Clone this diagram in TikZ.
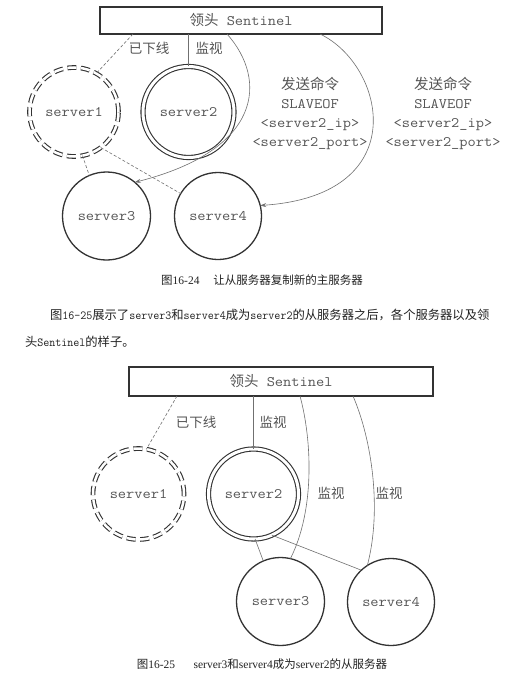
\documentclass[tikz,border=0pt]{standalone}
\usepackage{fontspec}
\setmainfont[FakeStretch=1.1]{Latin Modern Mono}
\newfontfamily\cjk{Noto Sans CJK SC}
\newfontfamily\capl{Liberation Serif}
\newfontfamily\paral[FakeStretch=0.95]{Latin Modern Mono}
\usetikzlibrary{arrows.meta}
\definecolor{ink}{HTML}{333333}
\definecolor{txt}{HTML}{555555}
\definecolor{wirec}{HTML}{707070}
\definecolor{body}{HTML}{222222}
\begin{document}
\begin{tikzpicture}[x=1pt,y=-1pt,
  every node/.style={inner sep=0pt,outer sep=0pt},
  box/.style={draw=ink,line width=1.6pt,fill=white,minimum width=282pt,minimum height=27pt,font=\fontsize{14.5}{16}\selectfont,text=txt},
  srv/.style={circle,draw=ink,line width=1.3pt,text=txt,font=\fontsize{14.5}{16}\selectfont},
  master/.style={srv,double,double distance=3pt,line width=1.1pt},
  offline/.style={srv,double,double distance=2.5pt,line width=1.1pt,dash pattern=on 9pt off 4.5pt},
  lbl/.style={text=txt,font=\fontsize{13.5}{16}\cjk},
  cmd/.style={text=txt,font=\fontsize{14.5}{19}\selectfont,align=center},
  wire/.style={draw=wirec,line width=0.6pt},
  dwire/.style={wire,dash pattern=on 3pt off 2pt},
  arr/.style={wire,-{Stealth[length=6pt,width=4pt]}},
  capt/.style={text=body,font=\fontsize{11.5}{14}\selectfont},
  para/.style={text=body,font=\fontsize{12.3}{15}\selectfont,anchor=west},
]
\fill[white] (0,0) rectangle (522,698);
\useasboundingbox (0,0) rectangle (522,698);

% ---------- Figure 16-24 ----------
\node[box] (s1) at (241,20.5) {{\cjk 领头} Sentinel};
\node[offline,minimum size=89pt] (a1) at (74,112) {server1};
\node[master,minimum size=91pt] (a2) at (188.5,112) {server2};
\node[srv,minimum size=88pt] (a3) at (106.5,216) {server3};
\node[srv,minimum size=87pt] (a4) at (218,216) {server4};

\node[lbl] (l1) at (149,48) {已下线};
\node[lbl] (l2) at (209,48) {监视};
\node[cmd] (c1) at (310,113.5) {{\cjk 发送命令}\\SLAVEOF\\<server2\_ip>\\<server2\_port>};
\node[cmd] (c2) at (443,113.5) {{\cjk 发送命令}\\SLAVEOF\\<server2\_ip>\\<server2\_port>};

\draw[dwire] ([xshift=-108pt]s1.south) -- (a1.60);
\draw[wire] (a2.north |- s1.south) -- (a2.north);
\draw[dwire] (a1.-79) -- (a3.113);
\draw[dwire] (a1.-53) -- (a4.149);
\draw[arr] ([xshift=-14pt]s1.south) .. controls (268,80) and (262,150) .. (a3.50);
\draw[arr] ([xshift=79pt]s1.south) .. controls (385,65) and (415,195) .. (a4.14);

\node[capt] (cap1) at (262,280) {{\cjk 图}{\capl 16-24}\hspace{1.2em}{\cjk 让从服务器复制新的主服务器}};

% ---------- paragraph ----------
\node[para] (p1) at (50,315) {{\cjk 图}{\paral 16-25}{\cjk 展示了}{\paral server3}{\cjk 和}{\paral server4}{\cjk 成为}{\paral server2}{\cjk 的从服务器之后，各个服务器以及领}};
\node[para] (p2) at (25,342) {{\cjk 头}{\paral Sentinel}{\cjk 的样子。}};

% ---------- Figure 16-25 ----------
\node[box,minimum width=304pt,minimum height=29pt] (s2) at (281,381.5) {{\cjk 领头} Sentinel};
\node[offline,minimum size=91pt] (b1) at (138.5,494) {server1};
\node[master,minimum size=90pt] (b2) at (253.5,494) {server2};
\node[srv,minimum size=88pt] (b3) at (280.5,601.5) {server3};
\node[srv,minimum size=87pt] (b4) at (391,602) {server4};

\node[lbl] (m1) at (196,422) {已下线};
\node[lbl] (m2) at (273,422) {监视};
\node[lbl] (m3) at (331,493) {监视};
\node[lbl] (m4) at (389,493) {监视};

\draw[dwire] ([xshift=-104pt]s2.south) -- (b1.80);
\draw[wire] (b2.north |- s2.south) -- (b2.north);
\draw[wire] ([xshift=19pt]s2.south) .. controls (312,440) and (315,510) .. (b3.77);
\draw[wire] ([xshift=72pt]s2.south) .. controls (372,440) and (382,510) .. (b4.123);
\draw[wire] (b2.-88) -- (b3.113);
\draw[wire] (b2.-66) -- (b4.133);

\node[capt] (cap2) at (262,664) {{\cjk 图}{\capl 16-25}\hspace{1.6em}{\capl server3}{\cjk 和}{\capl server4}{\cjk 成为}{\capl server2}{\cjk 的从服务器}};
\end{tikzpicture}
\end{document}
